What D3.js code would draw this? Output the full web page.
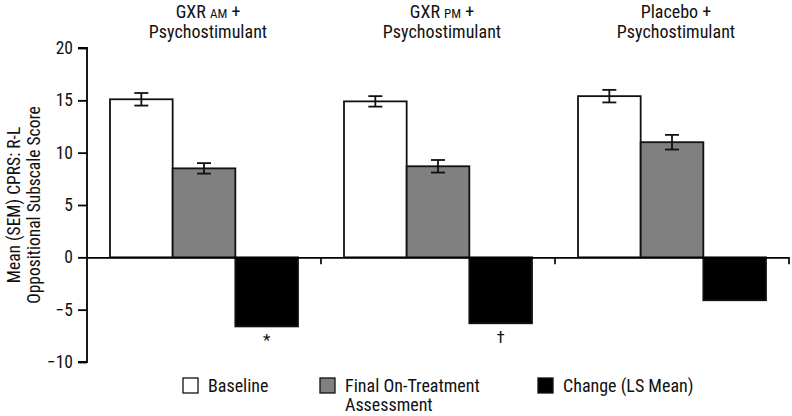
<!DOCTYPE html>
<html>
<head>
<meta charset="utf-8">
<script src="https://cdn.jsdelivr.net/npm/d3@7"></script>
<style>
  body { margin: 0; background: #fff; }
  text { font-family: "Liberation Sans Narrow", "Arial Narrow", "Roboto Condensed", "Liberation Sans", sans-serif; fill: #111; }
</style>
</head>
<body>
<div id="chart"></div>
<script>
var groups = ["GXR AM", "GXR PM", "Placebo"];
var seriesNames = ["Baseline", "Final On-Treatment Assessment", "Change (LS Mean)"];
var baseline = [15.1, 14.9, 15.4];
var baselineSem = [0.6, 0.5, 0.6];
var finalScore = [8.5, 8.7, 11.0];
var finalSem = [0.5, 0.6, 0.7];
var change = [-6.6, -6.3, -4.1];
var marks = ["*", "\u2020", ""];
var yTicks = [-10, -5, 0, 5, 10, 15, 20];
var colors = ["#ffffff", "#808080", "#000000"];

var svgWidth = 792;
var svgHeight = 416;
var margin = { top: 48, right: 3, bottom: 54, left: 87 };
var width = svgWidth - margin.left - margin.right;
var height = svgHeight - margin.top - margin.bottom;

var svg = d3.select("#chart")
    .append("svg")
    .attr("width", svgWidth)
    .attr("height", svgHeight);

var chartGroup = svg.append("g")
    .attr("transform", `translate(${margin.left}, ${margin.top})`);

var data = groups.map((g, i) => ({
    group: g,
    bars: [
        { s: 0, value: baseline[i], sem: baselineSem[i] },
        { s: 1, value: finalScore[i], sem: finalSem[i] },
        { s: 2, value: change[i], sem: null, mark: marks[i] }
    ]
}));

var x0 = d3.scaleBand()
    .domain(groups)
    .range([0, width])
    .paddingInner(0)
    .paddingOuter(0);

var x1 = d3.scaleBand()
    .domain([0, 1, 2])
    .range([23, x0.bandwidth() - 23])
    .padding(0);

var y = d3.scaleLinear()
    .domain([-10, 20])
    .range([height, 0]);

// y axis
var leftAxis = d3.axisLeft(y).tickValues(yTicks).tickSize(9).tickPadding(5)
    .tickFormat(d => d < 0 ? "\u2212" + Math.abs(d) : d);
var yAxis = chartGroup.append("g").call(leftAxis);
yAxis.select(".domain").attr("d", `M-9,${y(20)}H0V${y(-10)}H-9`).attr("stroke-width", 1.8);
yAxis.selectAll(".tick line").attr("stroke-width", 1.8);
yAxis.selectAll(".tick text").attr("font-size", 17.5).style("fill", "#111");

// bars
var groupSel = chartGroup.selectAll(".grp")
    .data(data)
    .enter()
    .append("g")
    .attr("class", "grp")
    .attr("transform", d => `translate(${x0(d.group)}, 0)`);

groupSel.selectAll("rect")
    .data(d => d.bars)
    .enter()
    .append("rect")
    .attr("x", d => x1(d.s))
    .attr("width", x1.bandwidth())
    .attr("y", d => y(Math.max(0, d.value)))
    .attr("height", d => Math.abs(y(d.value) - y(0)))
    .attr("fill", d => colors[d.s])
    .attr("stroke", "#111")
    .attr("stroke-width", 1.8);

// error bars
var errSel = groupSel.selectAll(".err")
    .data(d => d.bars.filter(b => b.sem !== null))
    .enter()
    .append("g")
    .attr("class", "err")
    .attr("stroke", "#111")
    .attr("stroke-width", 1.8);

errSel.append("line")
    .attr("x1", d => x1(d.s) + x1.bandwidth() / 2)
    .attr("x2", d => x1(d.s) + x1.bandwidth() / 2)
    .attr("y1", d => y(d.value + d.sem))
    .attr("y2", d => y(d.value - d.sem));
errSel.selectAll(".cap")
    .data(d => [d.value + d.sem, d.value - d.sem].map(v => ({ s: d.s, v: v })))
    .enter()
    .append("line")
    .attr("x1", d => x1(d.s) + x1.bandwidth() / 2 - 7)
    .attr("x2", d => x1(d.s) + x1.bandwidth() / 2 + 7)
    .attr("y1", d => y(d.v))
    .attr("y2", d => y(d.v));

// significance marks
groupSel.selectAll(".mark")
    .data(d => d.bars.filter(b => b.mark))
    .enter()
    .append("text")
    .attr("class", "mark")
    .attr("x", d => x1(d.s) + x1.bandwidth() / 2)
    .attr("y", d => y(d.value) + 20)
    .attr("text-anchor", "middle")
    .attr("font-size", 17)
    .text(d => d.mark);

// zero line with group ticks
var bottomAxis = d3.axisBottom(x0).tickValues([]).tickSizeOuter(0);
chartGroup.append("g")
    .attr("transform", `translate(0, ${y(0)})`)
    .call(bottomAxis)
    .select(".domain").attr("stroke-width", 1.8);
chartGroup.selectAll(".sep")
    .data(groups)
    .enter()
    .append("line")
    .attr("x1", d => x0(d) + x0.bandwidth())
    .attr("x2", d => x0(d) + x0.bandwidth())
    .attr("y1", y(0))
    .attr("y2", y(0) + 7)
    .attr("stroke", "#111")
    .attr("stroke-width", 1.8);

// group titles
var titles = chartGroup.selectAll(".title")
    .data(groups)
    .enter()
    .append("text")
    .attr("class", "title")
    .attr("text-anchor", "middle")
    .attr("font-size", 18)
    .attr("transform", d => `translate(${x0(d) + x0.bandwidth() / 2 + 4}, 0)`);
titles.append("tspan")
    .attr("x", 0)
    .attr("y", -30)
    .each(function(d) {
        var parts = d.split(" ");
        var t = d3.select(this);
        if (parts.length > 1) {
            t.append("tspan").text(parts[0] + " ");
            t.append("tspan").attr("font-size", 13).text(parts[1]);
            t.append("tspan").text(" +");
        } else {
            t.text(d + " +");
        }
    });
titles.append("tspan")
    .attr("x", 0)
    .attr("y", -10)
    .text("Psychostimulant");

// y label
var yLabel = svg.append("text")
    .attr("transform", `translate(20, ${margin.top + height / 2}) rotate(-90)`)
    .attr("text-anchor", "middle")
    .attr("font-size", 17.5);
yLabel.append("tspan").attr("x", 0).attr("y", 0).text("Mean (SEM) CPRS: R-L");
yLabel.append("tspan").attr("x", 0).attr("y", 20).text("Oppositional Subscale Score");

// legend
var legendX = [183, 320, 538];
var legend = svg.selectAll(".legend")
    .data(seriesNames)
    .enter()
    .append("g")
    .attr("class", "legend")
    .attr("transform", (d, i) => `translate(${legendX[i]}, 378)`);
legend.append("rect")
    .attr("width", 15)
    .attr("height", 15)
    .attr("fill", (d, i) => colors[i])
    .attr("stroke", "#111")
    .attr("stroke-width", 1.3);
legend.append("text")
    .attr("x", 25)
    .attr("y", 14)
    .attr("font-size", 18)
    .each(function(d, i) {
        var t = d3.select(this);
        if (i === 1) {
            t.append("tspan").attr("x", 25).attr("y", 14).text("Final On-Treatment");
            t.append("tspan").attr("x", 25).attr("y", 33).text("Assessment");
        } else {
            t.text(d);
        }
    });
</script>
</body>
</html>
